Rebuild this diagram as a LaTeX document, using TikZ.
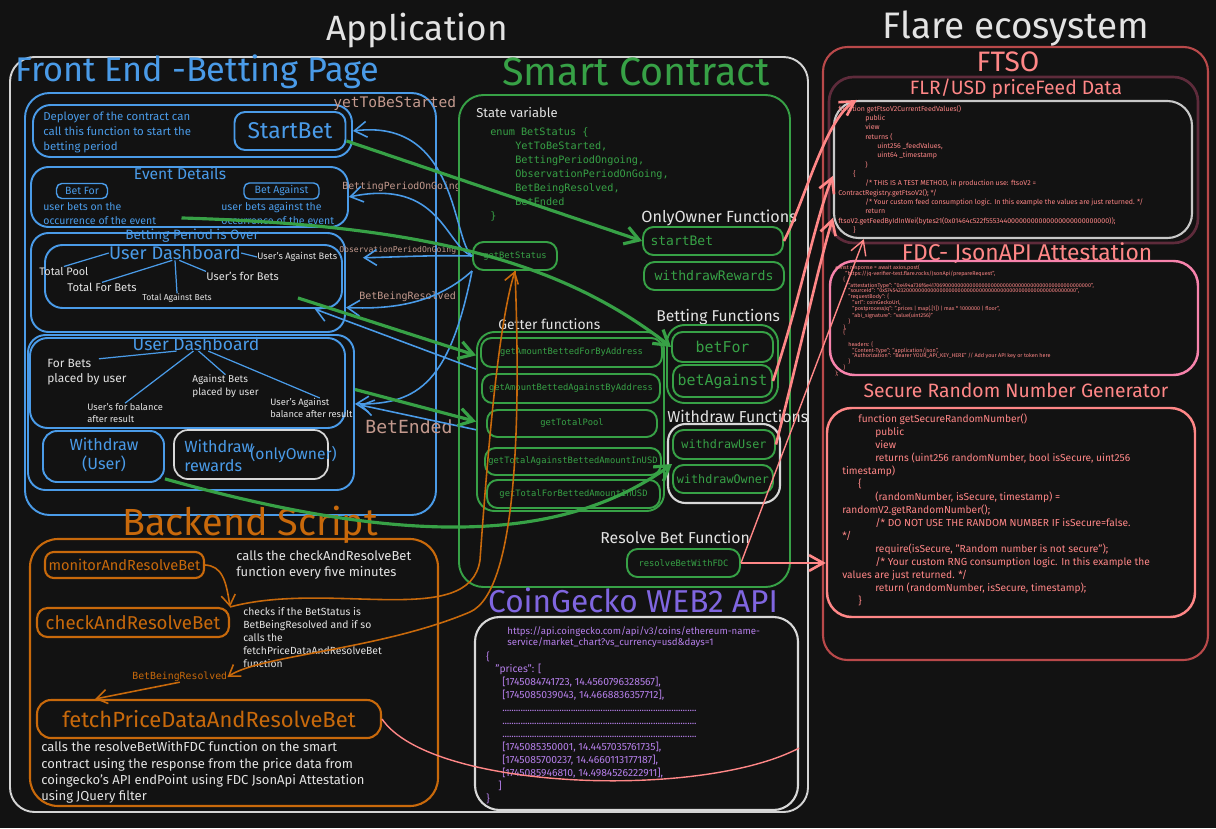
\documentclass[tikz,border=0pt]{standalone}
\usepackage{fontspec}
\setmainfont{Fira Sans}
\newfontfamily\codefont{DejaVu Sans Mono}
\usepackage{tikz}
\usetikzlibrary{arrows.meta, calc, fit}

\definecolor{bg}{HTML}{121212}
\definecolor{wtext}{HTML}{E3E3E3}
\definecolor{appgrey}{HTML}{D4D4D4}
\definecolor{wbox}{HTML}{D8D8D8}
\definecolor{fblue}{HTML}{4A9BE8}
\definecolor{sgreen}{HTML}{37A146}
\definecolor{borange}{HTML}{C8690B}
\definecolor{flred}{HTML}{FF8787}
\definecolor{ftsobox}{HTML}{B9494A}
\definecolor{maroon}{HTML}{5E2B3B}
\definecolor{codebox}{HTML}{C8C8C8}
\definecolor{fpink}{HTML}{F783AC}
\definecolor{cgpurple}{HTML}{8066E0}
\definecolor{cgtext}{HTML}{B57FEA}
\definecolor{tan}{HTML}{C49A8E}

\newcommand{\tsize}[2]{\fontsize{#1}{#2}\selectfont}
\newcommand{\dotrow}{\makebox[3.9cm]{\leaders\hbox to 1.3pt{\hss.\hss}\hfill}}

\tikzset{
  every node/.style={inner sep=0pt},
  txt/.style={text=wtext, anchor=west},
  status/.style={text=tan, anchor=west},
  fbbox/.style={draw=fblue, line width=1.1pt, rounded corners=10pt},
  fbthin/.style={draw=fblue, line width=0.7pt},
  scbox/.style={draw=sgreen, line width=1.1pt, rounded corners=6pt},
  scfn/.style={scbox, text=sgreen},
  obox/.style={draw=borange, line width=1.2pt, rounded corners=6pt},
  garrow/.style={draw=sgreen, line width=1.8pt, -{Straight Barb[length=8pt,width=10pt]}},
  barrow/.style={draw=fblue, line width=0.9pt, -{Straight Barb[length=7pt,width=9pt]}},
  rarrow/.style={draw=flred, line width=1.5pt, -{Straight Barb[length=8pt,width=9pt]}},
  oarrow/.style={draw=borange, line width=0.9pt, -{Straight Barb[length=6pt,width=8pt]}},
}

\begin{document}
\begin{tikzpicture}[x=0.02cm, y=-0.02cm]
    \path[use as bounding box, fill=bg] (0,0) rectangle (1216,828);

    % titles
    \node[text=wtext, font=\tsize{20}{22}] (apptitle) at (417,31) {Application};
    \node[text=wtext, font=\tsize{21}{24}] (flaretitle) at (1016,29) {Flare ecosystem};
    \node[draw=appgrey, line width=1.1pt, rounded corners=14pt, fit={(10,57) (808,812)}] (app) {};

    % front end
    \node[text=fblue, font=\tsize{19.5}{22}, anchor=west] (fetitle) at (15,72) {Front End -Betting Page};
    \node[fbbox, rounded corners=14pt, fit={(25,93) (436,515)}] (fe) {};
    \node[fbbox, fit={(33,105) (352,157)}] (startsec) {};
    \node[text=fblue, font=\tsize{6.5}{8.5}, align=left, anchor=west] (deployer) at (43,132) {Deployer of the contract can\\call this function to start the\\betting period};
    \node[fbbox, rounded corners=6pt, minimum width=2.22cm, minimum height=0.76cm, text=fblue, font=\tsize{13}{14}] (startbtn) at (290,131) {StartBet};

    \node[fbbox, fit={(31,167) (348,227)}] (evdet) {};
    \node[text=fblue, font=\tsize{8.9}{10}] (evtitle) at (180,173) {Event Details};
    \node[fbbox, line width=0.8pt, rounded corners=3pt, minimum width=1.02cm, minimum height=0.3cm, text=fblue, font=\tsize{6}{7}] (betforbtn) at (82,191) {Bet For};
    \node[fbbox, line width=0.8pt, rounded corners=3pt, minimum width=1.5cm, minimum height=0.32cm, text=fblue, font=\tsize{6}{7}] (betagbtn) at (281.5,191) {Bet Against};
    \node[text=fblue, font=\tsize{6}{7.9}, align=left, anchor=west] (fortext) at (43,214) {user bets on the\\occurrence of the event};
    \node[text=fblue, font=\tsize{6}{7.9}, align=left, anchor=west] (againsttext) at (221,213.5) {user bets against the\\occurrence of the event};

    \node[fbbox, fit={(31,233) (345,332)}] (bperiod) {};
    \node[text=fblue, font=\tsize{7.7}{9}] (bptitle) at (192,236) {Betting Period is Over};
    \node[fbbox, fit={(45,245) (342,308)}] (ud1) {};
    \node[text=fblue, font=\tsize{10.4}{12}] (ud1title) at (175,253) {User Dashboard};
    \node[txt, font=\tsize{6.2}{7}] (totalpool) at (39,271) {Total Pool};
    \node[txt, font=\tsize{6.4}{7}] (totalfor) at (67,287) {Total For Bets};
    \node[txt, font=\tsize{4.9}{6}] (totalagainst) at (142,298) {Total Against Bets};
    \node[txt, font=\tsize{6.3}{7}] (userfor) at (206,276) {User's for Bets};
    \node[txt, font=\tsize{5.3}{6}] (useragainst) at (257,257) {User's Against Bets};
    \draw[fbthin] (ud1title.west) -- (totalpool.north);
    \draw[fbthin] (ud1title.250) -- (totalfor.north);
    \draw[fbthin] (ud1title.south) -- (totalagainst.north);
    \draw[fbthin] (ud1title.300) -- (userfor.north west);
    \draw[fbthin] (ud1title.east) -- (useragainst.west);

    \node[fbbox, fit={(28,335) (354,490)}] (ud2box) {};
    \node[fbbox, fit={(30,338) (345,428)}] (ud2) {};
    \node[text=fblue, font=\tsize{10}{12}] (ud2title) at (196,344) {User Dashboard};
    \node[txt, font=\tsize{6.8}{8.5}, align=left] (forbets) at (47,372) {For Bets\\placed by user};
    \node[txt, font=\tsize{5.3}{6.8}, align=left] (forbal) at (87,413) {User's for balance\\after result};
    \node[txt, font=\tsize{5.7}{7.4}, align=left] (againstbets) at (192,386.5) {Against Bets\\placed by user};
    \node[txt, font=\tsize{5.3}{6.8}, align=left] (againstbal) at (270,408) {User's Against\\balance after result};
    \draw[fbthin] (ud2title.200) -- ($(forbets.north west)!0.65!(forbets.north east)$);
    \draw[fbthin] (ud2title.250) -- (forbal.north);
    \draw[fbthin] (ud2title.290) -- (againstbets.north);
    \draw[fbthin] (ud2title.330) -- ($(againstbal.north west)!0.6!(againstbal.north east)$);

    \node[fbbox, rounded corners=8pt, fit={(43,431) (164,482)}] (wuser) {};
    \node[text=fblue, font=\tsize{9.2}{10.8}, align=center] (wusertext) at (104,455) {Withdraw\\(User)};
    \node[draw=wbox, line width=1pt, rounded corners=8pt, fit={(174,430) (328,479)}] (wrewards) {};
    \node[text=fblue, font=\tsize{9.2}{10.8}, align=left, anchor=west] (wrewtext) at (184,456) {Withdraw\\rewards};
    \node[text=fblue, font=\tsize{8.9}{10}, anchor=west] (onlyowner) at (250,455) {(onlyOwner)};

    % bet status labels
    \node[status, font=\codefont\tsize{8.3}{9}] (lbl1) at (333,103) {yetToBeStarted};
    \node[status, font=\codefont\tsize{5.6}{6}] (lbl2) at (342,187) {BettingPeriodOnGoing};
    \node[status, font=\codefont\tsize{4.6}{5}] (lbl3) at (339,250) {ObservationPeriodOnGoing};
    \node[status, font=\codefont\tsize{5.7}{6}] (lbl4) at (359,297) {BetBeingResolved};
    \node[status, font=\codefont\tsize{10.3}{11}] (lbl5) at (365,427) {BetEnded};

    % smart contract
    \node[text=sgreen, font=\tsize{22.5}{25}] (sctitle) at (636,72) {Smart Contract};
    \node[scbox, rounded corners=14pt, fit={(459,95) (790,587)}] (sc) {};
    \node[txt, font=\tsize{7.4}{8}] (statevar) at (476,113) {State variable};
    \node[text=sgreen, font=\codefont\tsize{5.8}{8.05}, align=left, anchor=north west] (enum) at (490,127) {enum BetStatus \{\\
        \hspace*{0.5cm}YetToBeStarted,\\
        \hspace*{0.5cm}BettingPeriodOngoing,\\
        \hspace*{0.5cm}ObservationPeriodOnGoing,\\
        \hspace*{0.5cm}BetBeingResolved,\\
        \hspace*{0.5cm}BetEnded\\
        \}};
    \node[scfn, minimum width=1.68cm, minimum height=0.56cm, font=\codefont\tsize{5}{6}] (getstatus) at (515,256) {getBetStatus};

    \node[txt, font=\tsize{9.2}{10}] (onlyownerlbl) at (641,218) {OnlyOwner Functions};
    \node[scfn, minimum width=2.8cm, minimum height=0.56cm, text width=2.5cm, align=left, font=\codefont\tsize{7.4}{8}] (startbetfn) at (713,241) {startBet};
    \node[scfn, minimum width=2.8cm, minimum height=0.56cm, font=\codefont\tsize{7.5}{8}] (wrewardsfn) at (714,276) {withdrawRewards};

    \node[txt, font=\tsize{7.9}{9}] (getterlbl) at (498,324) {Getter functions};
    \node[scbox, rounded corners=10pt, fit={(477,332) (664,511)}] (getters) {};
    \node[scfn, minimum width=3.62cm, minimum height=0.58cm, font=\codefont\tsize{5}{6}] (ga1) at (571.5,352.5) {getAmountBettedForByAddress};
    \node[scfn, minimum width=3.56cm, minimum height=0.58cm, font=\codefont\tsize{5}{6}] (ga2) at (571,388.5) {getAmountBettedAgainstByAddress};
    \node[scfn, minimum width=3.4cm, minimum height=0.54cm, font=\codefont\tsize{5}{6}] (gtp) at (572,423.5) {getTotalPool};
    \node[scfn, minimum width=3.52cm, minimum height=0.54cm, font=\codefont\tsize{5}{6}] (gta) at (573,461.5) {getTotalAgainstBettedAmountInUSD};
    \node[scfn, minimum width=3.46cm, minimum height=0.56cm, font=\codefont\tsize{5}{6}] (gtf) at (573.5,494) {getTotalForBettedAmountInUSD};

    \node[txt, font=\tsize{8.9}{10}] (bettinglbl) at (656,317) {Betting Functions};
    \node[scbox, rounded corners=10pt, fit={(667,325) (778,403)}] (bettingfns) {};
    \node[scfn, minimum width=2.02cm, minimum height=0.6cm, font=\codefont\tsize{8.5}{9}] (betforfn) at (722.5,347) {betFor};
    \node[scfn, minimum width=1.98cm, minimum height=0.64cm, font=\codefont\tsize{8.5}{9}] (betagainstfn) at (722.5,381) {betAgainst};

    \node[txt, font=\tsize{9}{10}] (withdrawlbl) at (667,416) {Withdraw Functions};
    \node[draw=wbox, line width=1.2pt, rounded corners=10pt, fit={(668,424) (780,503)}] (withdrawfns) {};
    \node[scfn, minimum width=2.04cm, minimum height=0.58cm, font=\codefont\tsize{6.7}{7}] (wuserfn) at (724,444.5) {withdrawUser};
    \node[scfn, minimum width=2cm, minimum height=0.56cm, font=\codefont\tsize{6.7}{7}] (wownerfn) at (723,479) {withdrawOwner};

    \node[txt, font=\tsize{9}{10}] (resolvelbl) at (600,537) {Resolve Bet Function};
    \node[scfn, minimum width=2.26cm, minimum height=0.56cm, font=\codefont\tsize{5}{6}] (resolvefn) at (683.5,563) {resolveBetWithFDC};

    % backend script
    \node[text=borange, font=\tsize{21.5}{24}] (betitle) at (250,525) {Backend Script};
    \node[obox, rounded corners=16pt, fit={(30,539) (438,806)}] (backend) {};
    \node[obox, rounded corners=5pt, minimum width=3.18cm, minimum height=0.52cm, text=borange, font=\tsize{8.3}{9}] (monitor) at (124.5,565) {monitorAndResolveBet};
    \node[txt, font=\tsize{7.4}{9}, align=left] (monitortext) at (236,565) {calls the checkAndResolveBet\\function every five minutes};
    \node[obox, minimum width=3.84cm, minimum height=0.58cm, text=borange, font=\tsize{10.6}{12}] (check) at (133,622.5) {checkAndResolveBet};
    \node[txt, font=\tsize{5.9}{7.4}, align=left] (checktext) at (243,638) {checks if the BetStatus is\\BetBeingResolved and if so\\calls the\\fetchPriceDataAndResolveBet\\function};
    \node[text=borange, font=\codefont\tsize{5.6}{6}, anchor=west] (bbrlbl) at (132,677) {BetBeingResolved};
    \node[obox, rounded corners=8pt, minimum width=6.88cm, minimum height=0.76cm, text=borange, font=\tsize{12.5}{13}] (fetch) at (209,719) {fetchPriceDataAndResolveBet};
    \node[txt, font=\tsize{7.4}{9.2}, align=left] (fetchtext) at (41,772.5) {calls the resolveBetWithFDC function on the smart\\contract using the response from the price data from\\coingecko's API endPoint using FDC JsonApi Attestation\\using JQuery filter};

    % coingecko
    \node[text=cgpurple, font=\tsize{18}{20}] (cgtitle) at (633,600) {CoinGecko WEB2 API};
    \node[draw=wbox, line width=1.2pt, rounded corners=14pt, fit={(475,617) (798,810)}] (cgbox) {};
    \node[text=cgtext, font=\tsize{5.5}{6.2}, align=left, anchor=west] (cgurl) at (507,637.5) {https://api.coingecko.com/api/v3/coins/ethereum-name-\\service/market\_chart?vs\_currency=usd\&days=1};
    \node[text=cgtext, font=\tsize{5.9}{7.37}, align=left, anchor=north west] (cgjson) at (486,651) {\{\\
        \hspace*{0.18cm}"prices": [\\
        \hspace*{0.32cm}[1745084741723, 14.4560796328567],\\
        \hspace*{0.32cm}[1745085039043, 14.4668836357712],\\
        \hspace*{0.32cm}\dotrow\\
        \hspace*{0.32cm}\dotrow\\
        \hspace*{0.32cm}\dotrow\\
        \hspace*{0.32cm}[1745085350001, 14.4457035761735],\\
        \hspace*{0.32cm}[1745085700237, 14.4660113177187],\\
        \hspace*{0.32cm}[1745085946810, 14.4984526222911],\\
        \hspace*{0.24cm}]\\
        \}};

    % flare ecosystem
    \node[draw=ftsobox, line width=1.2pt, rounded corners=14pt, fit={(823,47) (1208,660)}] (ftso) {};
    \node[text=flred, font=\tsize{16}{18}] (ftsotitle) at (1008,62) {FTSO};
    \node[draw=maroon, line width=1.5pt, rounded corners=14pt, fit={(829,77) (1198,243)}] (flrbox) {};
    \node[text=flred, font=\tsize{11}{13}] (flrtitle) at (1016,89) {FLR/USD priceFeed Data};
    \node[draw=codebox, line width=1.2pt, rounded corners=14pt, fit={(834,101) (1192,238)}] (flrcode) {};
    \node[text=flred, font=\tsize{4}{5.3}, align=left, anchor=north west] (ftsocode) at (838,105) {function getFtsoV2CurrentFeedValues()\\
        \hspace*{0.54cm}public\\
        \hspace*{0.54cm}view\\
        \hspace*{0.54cm}returns (\\
        \hspace*{0.78cm}uint256 \_feedValues,\\
        \hspace*{0.78cm}uint64 \_timestamp\\
        \hspace*{0.54cm})\\
        \hspace*{0.3cm}\{\\
        \hspace*{0.54cm}/* THIS IS A TEST METHOD, in production use: ftsoV2 =\\
        ContractRegistry.getFtsoV2(); */\\
        \hspace*{0.54cm}/* Your custom feed consumption logic. In this example the values are just returned. */\\
        \hspace*{0.54cm}return\\
        ftsoV2.getFeedByIdInWei(bytes21(0x01464c522f55534400000000000000000000000000));\\
        \hspace*{0.3cm}\}};

    \node[text=flred, font=\tsize{13}{15}] (fdctitle) at (1027,253) {FDC- JsonAPI Attestation};
    \node[draw=fpink, line width=1.4pt, rounded corners=14pt, fit={(830,261) (1198,375)}] (fdcbox) {};
    \node[text=flred, font=\tsize{3.1}{3.27}, align=left, anchor=north west] (fdccode) at (835,265) {const response = await axios.post(\\
        \hspace*{0.2cm}"https://jq-verifier-test.flare.rocks/JsonApi/prepareRequest",\\
        \hspace*{0.16cm}\{\\
        \hspace*{0.26cm}"attestationType": "0x494a736f6e417069000000000000000000000000000000000000000000000000",\\
        \hspace*{0.26cm}"sourceId": "0x5745423200000000000000000000000000000000000000000000000000000000",\\
        \hspace*{0.26cm}"requestBody": \{\\
        \hspace*{0.34cm}"url": coinGeckoUrl,\\
        \hspace*{0.34cm}"postprocessJq": ".prices | map(.[1]) | max * 1000000 | floor",\\
        \hspace*{0.34cm}"abi\_signature": "value(uint256)"\\
        \hspace*{0.26cm}\}\\
        \hspace*{0.16cm}\},\\
        \hspace*{0.16cm}\{\\
        \\
        \hspace*{0.26cm}headers: \{\\
        \hspace*{0.34cm}"Content-Type": "application/json",\\
        \hspace*{0.34cm}"Authorization": "Bearer YOUR\_API\_KEY\_HERE" // Add your API key or token here\\
        \hspace*{0.26cm}\}\\
        \hspace*{0.16cm}\}\\
        );};

    \node[text=flred, font=\tsize{11}{13}] (rngtitle) at (1016,390) {Secure Random Number Generator};
    \node[draw=flred, line width=1.4pt, rounded corners=14pt, fit={(827,408) (1195,617)}] (rngbox) {};
    \node[text=flred, font=\tsize{5.8}{7.37}, align=left, anchor=north west] (rngcode) at (842,414) {\hspace*{0.32cm}function getSecureRandomNumber()\\
        \hspace*{0.66cm}public\\
        \hspace*{0.66cm}view\\
        \hspace*{0.66cm}returns (uint256 randomNumber, bool isSecure, uint256\\
        timestamp)\\
        \hspace*{0.32cm}\{\\
        \hspace*{0.66cm}(randomNumber, isSecure, timestamp) =\\
        randomV2.getRandomNumber();\\
        \hspace*{0.66cm}/* DO NOT USE THE RANDOM NUMBER IF isSecure=false.\\
        */\\
        \hspace*{0.66cm}require(isSecure, "Random number is not secure");\\
        \hspace*{0.66cm}/* Your custom RNG consumption logic. In this example the\\
        values are just returned. */\\
        \hspace*{0.66cm}return (randomNumber, isSecure, timestamp);\\
        \hspace*{0.32cm}\}};

    % bet status back to the front end
    \draw[barrow] (getstatus.west) .. controls (452,240) and (458,118) .. (startsec.east);
    \draw[barrow] (getstatus.west) .. controls (445,245) and (440,178) .. (evdet.east);
    \draw[barrow, shorten >=0.4cm] (getstatus.west) .. controls (430,255) and (400,257) .. (ud1.7);
    \draw[barrow] (getstatus.south west) .. controls (440,300) and (400,310) .. (bperiod.-9);
    \draw[barrow] (getstatus.south west) .. controls (450,380) and (420,405) .. (ud2box.3);
    % getters back to the dashboards
    \draw[barrow] (getters.151) -- (ud1.-15);
    \draw[barrow, shorten >=0.1cm] (getters.185) -- (ud2box.3);

    % calls into the contract
    \draw[garrow] (startbtn.-10) -- (startbetfn.west);
    \draw[garrow] ($(evdet.south)+(-8,-10)$) .. controls (420,225) and (560,260) .. (betforfn.west);
    \draw[garrow] ($(ud1.south east)+(-45,-11)$) -- (getters.145);
    \draw[garrow] (ud2box.8) -- (getters.west);
    \draw[garrow] (wuser.-20) .. controls (400,545) and (560,545) .. (wownerfn.north west);

    % contract to flare
    \draw[rarrow] (startbetfn.east) .. controls (805,200) and (825,120) .. (flrcode.156);
    \draw[rarrow] (betagainstfn.east) .. controls (800,300) and (815,220) .. (flrcode.182);
    \draw[rarrow] (wuserfn.east) .. controls (800,350) and (820,260) .. (flrcode.195);
    \draw[rarrow, line width=0.8pt] (resolvefn.east) -- (flrcode.205);
    \draw[rarrow] (resolvefn.east) -- (rngbox.west |- resolvefn.east);
    \draw[draw=flred, line width=0.8pt] (fetch.east) .. controls (430,790) and (700,800) .. (cgbox.-12);

    % backend flow
    \draw[oarrow] (monitor.east) .. controls (222,566) and (226,580) .. (check.north east);
    \draw[oarrow] (check.north east) .. controls (330,580) and (470,630) .. (480,560) .. controls (490,420) and (500,320) .. (getstatus.south);
    \draw[oarrow] (getstatus.south) .. controls (520,400) and (520,590) .. (470,612) .. controls (380,650) and (260,655) .. (bbrlbl.east);
    \draw[oarrow] (bbrlbl.south) -- (fetch.170);
\end{tikzpicture}
\end{document}
